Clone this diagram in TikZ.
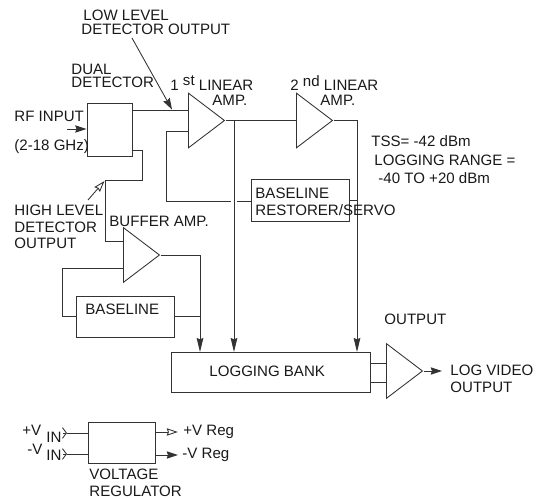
\documentclass[tikz,border=0pt]{standalone}
\usepackage{fontspec}
\setmainfont{Liberation Sans}
\usepackage{xcolor}
\usetikzlibrary{arrows.meta, positioning, shapes.geometric}

\tikzset{
    box/.style={rectangle, draw, inner sep=0pt},
    amp/.style={isosceles triangle, isosceles triangle stretches, draw, inner sep=0pt,
        anchor=lower side, minimum width=41pt, minimum height=27pt},
    lbl/.style={anchor=west, inner sep=0pt, align=left, text=black!90, font=\fontsize{11.3}{13}\selectfont},
    chev/.style={-{Straight Barb[length=3pt, width=8pt]}},
    arr/.style={-{Stealth[length=8.5pt, width=5.5pt, inset=1pt]}},
    longarr/.style={-{Stealth[length=10.5pt, width=5pt, inset=1pt]}},
    openarr/.style={-{Stealth[open, length=8.5pt, width=5.5pt, inset=1pt]}},
}

\begin{document}
\begin{tikzpicture}[x=0.75pt, y=-0.75pt, line width=0.65pt, draw=black!80]
    \useasboundingbox (0,0) rectangle (537,499);

    \node[box, minimum width=33.8pt, minimum height=39.8pt] (det) at (109.5,129.5) {};
    \node[box, minimum width=73.5pt, minimum height=31.5pt] (restorer) at (300,200) {};
    \node[box, minimum width=73.5pt, minimum height=30.8pt] (baseline) at (125,316.5) {};
    \node[box, minimum width=149.3pt, minimum height=30pt] (bank) at (270.5,372) {};
    \node[box, minimum width=50.3pt, minimum height=30.8pt] (reg) at (121.5,442.5) {};

    \node[amp] (amp1) at (188,120.5) {};
    \node[amp] (amp2) at (296,120.5) {};
    \node[amp] (buffer) at (123,255) {};
    \node[amp] (outamp) at (386,371) {};

    \coordinate (amp1in) at (188,110);
    \coordinate (amp1fb) at (188,131);
    \coordinate (fbleft) at (166,201);
    \coordinate (fbgap) at (231,201);
    \coordinate (fbgap2) at (237,201);
    \coordinate (amp1tap) at (234,120.5);
    \coordinate (amp2tap) at (357,120.5);
    \coordinate (detlow) at (131.5,150);
    \coordinate (detturn) at (142,180);
    \coordinate (hightap) at (105,180);
    \coordinate (bufin) at (123,241);
    \coordinate (buffb) at (123,268);
    \coordinate (bufleft) at (62,268);
    \coordinate (buftap) at (200,255);
    \coordinate (banka) at (200,352);
    \coordinate (bankb) at (234,352);
    \coordinate (bankc) at (357,352);
    \coordinate (outa) at (370,363);
    \coordinate (outb) at (370,382);
    \coordinate (videoend) at (442,371);
    \coordinate (rfstart) at (67,129);
    \coordinate (lowstart) at (132,38);
    \coordinate (lowend) at (172,109.5);
    \coordinate (highstart) at (88,200);
    \coordinate (highend) at (104.5,181);
    \coordinate (vplus) at (67,433);
    \coordinate (vplus2) at (63,433);
    \coordinate (vminus) at (67,454);
    \coordinate (vminus2) at (63,454);
    \coordinate (regplus) at (178,432);
    \coordinate (regminus) at (178,455);

    \draw (det.east |- amp1in) -- (amp1in);
    \draw (amp1.apex) -- (amp2.lower side);
    \draw (amp2.apex) -- (amp2tap);
    \draw[longarr] (amp2tap) -- (bankc);
    \draw[longarr] (amp1tap) -- (bankb);
    \draw (amp1fb) -| (fbleft) -- (fbgap);
    \draw (fbgap2) -- (restorer.west |- fbgap2);
    \draw (restorer.east) -- (restorer.east -| amp2tap);
    \draw (detlow) -| (detturn) -- (hightap) |- (bufin);
    \draw (buffer.apex) -- (buftap);
    \draw[longarr] (buftap) -- (banka);
    \draw (buffb) -- (bufleft) |- (baseline.west);
    \draw (baseline.east) -- (baseline.east -| buftap);
    \draw (outa) -- (outa -| outamp.lower side);
    \draw (outb) -- (outb -| outamp.lower side);
    \draw[arr] (outamp.apex) -- (videoend);
    \draw[arr] (rfstart) -- (det.west |- rfstart);
    \draw[arr] (lowstart) -- (lowend);
    \draw[openarr] (highstart) -- (highend);
    \draw[chev] (vplus2) -- (vplus);
    \draw[chev] (vminus2) -- (vminus);
    \draw (vplus) -- (reg.west |- vplus);
    \draw (vminus) -- (reg.west |- vminus);
    \draw[openarr] (reg.east |- regplus) -- (regplus);
    \draw[arr] (reg.east |- regminus) -- (regminus);

    \node[lbl] (lowlbl) at (83,15) {LOW LEVEL};
    \node[lbl] (lowlbl2) at (81,29) {DETECTOR OUTPUT};
    \node[lbl] (duallbl) at (71,69.5) {DUAL};
    \node[lbl] (duallbl2) at (71,82.5) {DETECTOR};
    \node[lbl] (firstlbl) at (170,83) {1 \raisebox{3.5pt}{st} LINEAR};
    \node[lbl] (firstlbl2) at (212,100) {AMP.};
    \node[lbl] (secondlbl) at (290,83) {2 \raisebox{3.5pt}{nd} LINEAR};
    \node[lbl] (secondlbl2) at (320,100) {AMP.};
    \node[lbl] (rflbl) at (14,116) {RF INPUT};
    \node[lbl] (rflbl2) at (14,147) {(2-18 GHz)};
    \node[lbl] (highlbl) at (14,210) {HIGH LEVEL};
    \node[lbl] (highlbl2) at (14,227) {DETECTOR};
    \node[lbl] (highlbl3) at (14,243) {OUTPUT};
    \node[lbl] (buflbl) at (109,221) {BUFFER AMP.};
    \node[lbl] (baselbl) at (85,309) {BASELINE};
    \node[lbl] (reslbl) at (255,193) {BASELINE};
    \node[lbl] (reslbl2) at (255,210) {RESTORER/SERVO};
    \node[lbl] (tsslbl) at (371,141) {TSS= -42 dBm};
    \node[lbl] (rangelbl) at (374,160) {LOGGING RANGE =};
    \node[lbl] (rangelbl2) at (378,178) {-40 TO +20 dBm};
    \node[lbl] (banklbl) at (209,371) {LOGGING BANK};
    \node[lbl] (outlbl) at (384,319) {OUTPUT};
    \node[lbl] (videolbl) at (450,370) {LOG VIDEO};
    \node[lbl] (videolbl2) at (450,387) {OUTPUT};
    \node[lbl] (vplbl) at (22,430) {+V};
    \node[lbl] (vplbl2) at (46,437) {IN};
    \node[lbl] (vmlbl) at (27,449) {-V};
    \node[lbl] (vmlbl2) at (46,455) {IN};
    \node[lbl] (rplbl) at (183,432) {+V Reg};
    \node[lbl] (rmlbl) at (182,455) {-V Reg};
    \node[lbl] (reglbl) at (89,474) {VOLTAGE};
    \node[lbl] (reglbl2) at (89,491) {REGULATOR};
\end{tikzpicture}
\end{document}
